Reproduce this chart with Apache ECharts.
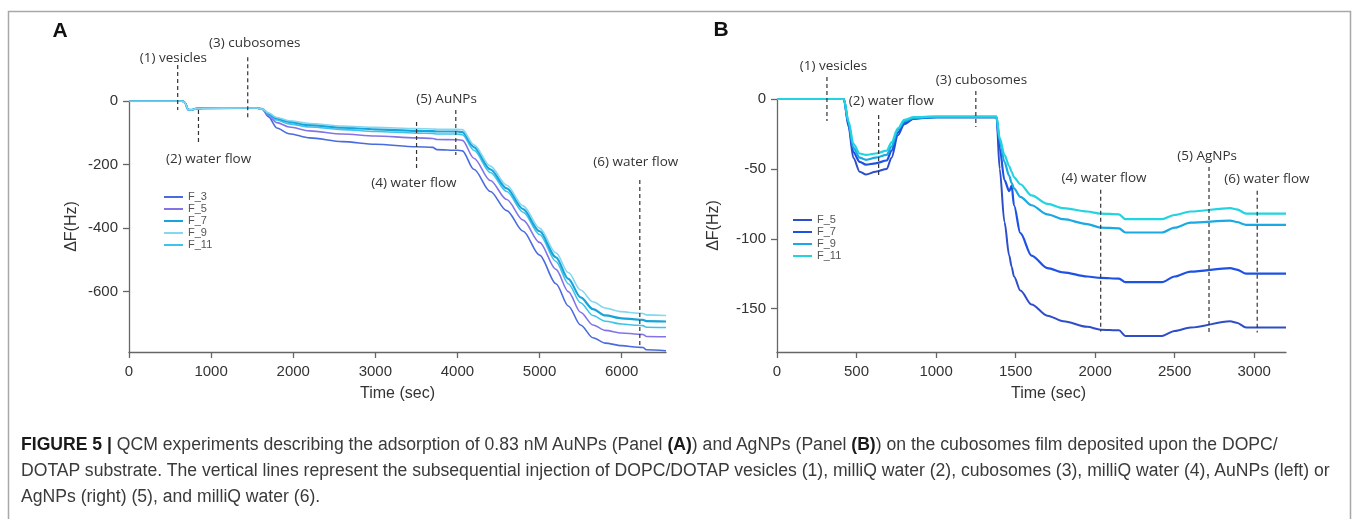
<!DOCTYPE html>
<html>
<head>
<meta charset="utf-8">
<title>QCM AuNPs / AgNPs</title>
<script src="https://cdn.jsdelivr.net/npm/echarts@6/dist/echarts.min.js"></script>
<style>
  html, body { margin: 0; padding: 0; background: #fff; }
  #wrap { position: relative; width: 1354px; height: 519px; overflow: hidden; }
  #chart { width: 1354px; height: 519px; }
  .cap {
    position: absolute;
    left: 21px;
    height: 22px;
    line-height: 22px;
    font: 17.6px "Liberation Sans", Arial, Helvetica, sans-serif;
    color: #3a3a3a;
    white-space: nowrap;
  }
  .cap b { color: #1a1a1a; }
</style>
</head>
<body>
<div id="wrap">
  <div id="chart"></div>
  <div class="cap" style="top:434px;"><b>FIGURE 5 |</b> QCM experiments describing the adsorption of 0.83 nM AuNPs (Panel <b>(A)</b>) and AgNPs (Panel <b>(B)</b>) on the cubosomes film deposited upon the DOPC/</div>
  <div class="cap" style="top:460px;">DOTAP substrate. The vertical lines represent the subsequential injection of DOPC/DOTAP vesicles (1), milliQ water (2), cubosomes (3), milliQ water (4), AuNPs (left) or</div>
  <div class="cap" style="top:486px;">AgNPs (right) (5), and milliQ water (6).</div>
</div>
<script>
// ---- panel A : AuNPs ----
var timeA = [0, 650, 680, 720, 760, 820, 900, 1400, 1550, 1620,
  1700, 1800, 1950, 2200, 2600, 3000, 3500, 3700, 3750, 4000,
  4060, 4200, 4400, 4600, 4800, 5000, 5200, 5350, 5500, 5650,
  5800, 6000, 6200, 6260, 6300, 6540]
var a_F3 = [0, 0, -5, -27, -28, -24, -23, -22, -22, -25,
  -50, -85, -103, -116, -128, -136, -144, -146, -153, -155,
  -157, -215, -285, -345, -410, -485, -575, -645, -705, -745,
  -762, -770, -775, -776, -783, -786]
var a_F5 = [0, 0, -5, -27, -28, -24, -23, -22, -22, -25,
  -45, -68, -82, -94, -104, -110, -116, -118, -121, -122,
  -124, -180, -250, -310, -375, -445, -530, -600, -665, -705,
  -722, -730, -734, -735, -741, -742]
var a_F7 = [0, 0, -5, -27, -28, -24, -23, -22, -22, -25,
  -40, -55, -66, -76, -84, -89, -94, -95, -96, -96,
  -98, -145, -215, -275, -340, -410, -492, -560, -618, -655,
  -675, -684, -688, -689, -693, -694]
var a_F9 = [0, 0, -5, -27, -28, -24, -23, -22, -22, -25,
  -38, -52, -62, -71, -79, -83, -87, -88, -89, -89,
  -90, -138, -205, -265, -330, -400, -478, -540, -595, -632,
  -652, -663, -668, -669, -673, -675]
var a_F11 = [0, 0, -5, -27, -28, -24, -23, -22, -22, -25,
  -42, -60, -72, -82, -90, -96, -101, -102, -104, -104,
  -106, -155, -225, -285, -350, -420, -505, -575, -635, -675,
  -693, -702, -706, -707, -712, -713]
var ticksXA = [0, 1000, 2000, 3000, 4000, 5000, 6000]
var ticksYA = [0, -200, -400, -600]
var eventTimeA = [593, 846, 1446, 3502, 3980, 6221]
var eventTextA = ['(1) vesicles', '(2) water flow', '(3) cubosomes', '(4) water flow', '(5) AuNPs', '(6) water flow']

// ---- panel B : AgNPs ----
var timeB = [0, 420, 450, 480, 520, 560, 620, 690, 720, 760, 800, 860, 1000, 1380,
  1400, 1430, 1460, 1475, 1490, 1530, 1600, 1700, 1800, 1950,
  2035, 2150, 2190, 2420, 2500, 2600, 2850, 2890, 2950, 3200]
var b_F5 = [0, 0, -20, -42, -52, -54, -52, -50, -42, -26, -18, -14, -13, -13,
  -50, -88, -112, -120, -127, -137, -147, -155, -159, -163,
  -165, -165.5, -169.5, -169.5, -166, -163.5, -159, -160, -163.5, -163.5]
var b_F7 = [0, 0, -18, -38, -45, -47, -46, -44, -37, -24, -17, -14, -13, -13,
  -35, -58, -66, -62, -76, -96, -112, -121, -124, -127,
  -128, -128.5, -131, -131, -127, -123.5, -121, -122, -125, -125]
var b_F9 = [0, 0, -17, -35, -42, -43.5, -42, -40, -34, -22, -16, -13.5, -13, -13,
  -30, -45, -55, -60, -64, -70, -76, -82.5, -86, -89.5,
  -92, -92.5, -95.5, -95.5, -92, -88.5, -87, -88, -90, -90]
var b_F11 = [0, 0, -16, -32, -39, -40, -39, -37, -31, -21, -15, -13, -12.5, -12.5,
  -28, -40, -48, -52, -56, -61, -69, -75, -78, -80.5,
  -82, -82.5, -86, -86, -83, -80.5, -78, -79, -82, -82]
var ticksXB = [0, 500, 1000, 1500, 2000, 2500, 3000]
var ticksYB = [0, -50, -100, -150]
var eventTimeB = [314, 639, 1250, 2035, 2716, 3019]
var eventTextB = ['(1) vesicles', '(2) water flow', '(3) cubosomes', '(4) water flow', '(5) AgNPs', '(6) water flow']

// placement of dashed lines and their texts, in axis units: [top, bottom, textT, textV]
var markLayoutA = [[113, -28, 541, 135], [-28, -138, 970, -182], [138, -60, 1531, 182],
  [-66, -217, 3470, -259], [-28, -170, 3867, 6], [-249, -777, 6172, -193]]
var markLayoutB = [[15.7, -15.7, 355, 23.8], [-11.4, -55.7, 719, -1.4], [5.7, -20, 1285, 13.6],
  [-65, -166.4, 2056, -56.4], [-48.6, -167, 2704, -40.7], [-65.7, -167, 3080, -57.1]]

var FONT = '"Liberation Sans", Arial, Helvetica, sans-serif'
var NOTE_FONT = '"Open Sans", "Liberation Sans", sans-serif'

function pairs (xs, ys) {
  return xs.map(function (x, i) { return [x, ys[i]] })
}

function marks (times, layout) {
  return times.map(function (t, i) {
    return [t, layout[i][0], layout[i][1], layout[i][2], layout[i][3]]
  })
}

// dashed injection lines + their captions
function markSeries (idx, times, layout, texts) {
  return {
    type: 'custom',
    xAxisIndex: idx,
    yAxisIndex: idx,
    silent: true,
    z: 5,
    data: marks(times, layout),
    renderItem: function (params, api) {
      var p1 = api.coord([api.value(0), api.value(1)])
      var p2 = api.coord([api.value(0), api.value(2)])
      var pt = api.coord([api.value(3), api.value(4)])
      return {
        type: 'group',
        children: [{
          type: 'line',
          shape: { x1: p1[0], y1: p1[1], x2: p2[0], y2: p2[1] },
          style: { stroke: '#333', lineWidth: 1.2, lineDash: [4, 3] }
        }, {
          type: 'text',
          x: pt[0],
          y: pt[1],
          style: {
            text: texts[params.dataIndex],
            fill: '#333',
            fontSize: 13.5,
            fontFamily: NOTE_FONT,
            align: 'center',
            verticalAlign: 'middle'
          }
        }]
      }
    }
  }
}

function line (name, idx, xs, ys, color, width) {
  return {
    name: name,
    type: 'line',
    xAxisIndex: idx,
    yAxisIndex: idx,
    data: pairs(xs, ys),
    showSymbol: false,
    smooth: 0.3,
    smoothMonotone: 'x',
    color: color,
    lineStyle: { width: width, color: color }
  }
}

var axisLine = { onZero: false, lineStyle: { color: '#666', width: 1.3 } }
var plain = function (v) { return String(v) }

function xAxis (idx, max, ticks, namePad) {
  return {
    type: 'value',
    gridIndex: idx,
    min: 0,
    max: max,
    axisLine: axisLine,
    axisTick: { length: 6, customValues: ticks, lineStyle: { color: '#666', width: 1.3 } },
    axisLabel: { customValues: ticks, formatter: plain, fontSize: 15, color: '#333', fontFamily: FONT, margin: 12 },
    splitLine: { show: false },
    name: 'Time (sec)',
    nameLocation: 'middle',
    nameGap: 34,
    nameTextStyle: { fontSize: 16, color: '#333', fontFamily: FONT, padding: namePad }
  }
}

function yAxis (idx, min, ticks, gap) {
  return {
    type: 'value',
    gridIndex: idx,
    min: min,
    max: 0,
    axisLine: axisLine,
    axisTick: { length: 6, customValues: ticks, lineStyle: { color: '#666', width: 1.3 } },
    axisLabel: { customValues: ticks, formatter: plain, fontSize: 15, color: '#333', fontFamily: FONT, margin: 11 },
    splitLine: { show: false },
    name: 'ΔF(Hz)',
    nameLocation: 'middle',
    nameGap: gap,
    nameTextStyle: { fontSize: 16, color: '#333', fontFamily: FONT }
  }
}

function legend (names, left, top) {
  return {
    data: names,
    orient: 'vertical',
    left: left,
    top: top,
    padding: 0,
    icon: 'rect',
    itemWidth: 19,
    itemHeight: 2,
    itemGap: 0,
    selectedMode: false,
    formatter: function (n) { return n.slice(2) },
    textStyle: { fontSize: 11, lineHeight: 12, color: '#555', fontFamily: '"Liberation Sans Narrow", "Liberation Sans", sans-serif' }
  }
}

var chart = echarts.init(document.getElementById('chart'))
var option = {
  animation: false,
  backgroundColor: '#fff',
  grid: [
    { left: 129, top: 101, width: 537, height: 251 },
    { left: 777, top: 99, width: 509, height: 253 }
  ],
  xAxis: [xAxis(0, 6540, ticksXA, [0, 0, 0, 0]), xAxis(1, 3200, ticksXB, [0, 0, 0, 34])],
  yAxis: [yAxis(0, -790, ticksYA, 49), yAxis(1, -181, ticksYB, 55)],
  legend: [
    legend(['A F_3', 'A F_5', 'A F_7', 'A F_9', 'A F_11'], 164, 191),
    legend(['B F_5', 'B F_7', 'B F_9', 'B F_11'], 793, 214)
  ],
  series: [
    line('A F_3', 0, timeA, a_F3, '#4a6be0', 1.6),
    line('A F_5', 0, timeA, a_F5, '#8274e6', 1.6),
    line('A F_11', 0, timeA, a_F11, '#3fc3ec', 1.6),
    line('A F_7', 0, timeA, a_F7, '#17a4d8', 2.2),
    line('A F_9', 0, timeA, a_F9, '#86d6f0', 1.6),
    markSeries(0, eventTimeA, markLayoutA, eventTextA),
    line('B F_5', 1, timeB, b_F5, '#2d4ec8', 2),
    line('B F_7', 1, timeB, b_F7, '#1d52e4', 2.2),
    line('B F_9', 1, timeB, b_F9, '#19a9e4', 2.2),
    line('B F_11', 1, timeB, b_F11, '#22d3e0', 2.2),
    markSeries(1, eventTimeB, markLayoutB, eventTextB)
  ],
  graphic: [
    {
      type: 'rect',
      shape: { x: 8.5, y: 11.5, width: 1342, height: 530 },
      style: { fill: 'none', stroke: '#a8a8a8', lineWidth: 1.5 },
      silent: true
    },
    { type: 'text', x: 60, y: 31, style: { text: 'A', fontSize: 21, fontWeight: 'bold', fontFamily: FONT, fill: '#111', align: 'center', verticalAlign: 'middle' } },
    { type: 'text', x: 721, y: 30, style: { text: 'B', fontSize: 21, fontWeight: 'bold', fontFamily: FONT, fill: '#111', align: 'center', verticalAlign: 'middle' } }
  ]
}
chart.setOption(option)
</script>
</body>
</html>
